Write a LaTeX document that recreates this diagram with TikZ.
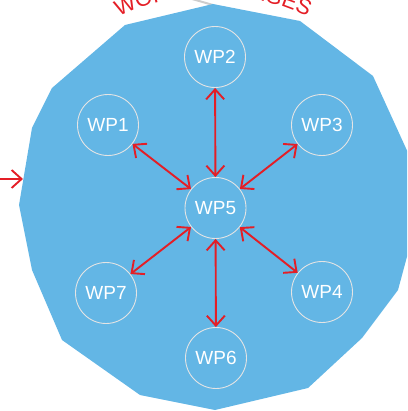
\documentclass[tikz,border=0pt]{standalone}
\usepackage{fontspec}
\setsansfont{Liberation Sans}
\usetikzlibrary{arrows.meta,decorations.text}
\definecolor{blobblue}{RGB}{99,182,229}
\definecolor{wpred}{RGB}{228,30,38}
\definecolor{ringgrey}{RGB}{228,228,228}
\definecolor{lineGrey}{RGB}{205,205,205}
\begin{document}
\begin{tikzpicture}[x=1pt,y=-1pt,
  wp/.style={circle,draw=ringgrey,line width=0.9pt,minimum size=61pt,inner sep=0pt,
    text=white,font=\sffamily\fontsize{19}{19}\selectfont},
  link/.style={draw=wpred,line width=1.9pt,>={Straight Barb[length=10pt,width=18pt]}}
]
\useasboundingbox (0,0) rectangle (407,411);
\clip (0,0) rectangle (407,411);

% title along arc (partly off the page)
\path[decorate,decoration={text along path,text align=center,
    text={|\sffamily\fontsize{22}{22}\selectfont\color{wpred}|WORK PACKAGES}}]
  (213,207) ++(-120:212) arc[start angle=-120,end angle=-60,radius=212];

% grey line behind the blob
\draw[lineGrey,line width=2pt] (192,-1) -- (213,5);

% blob
\fill[blobblue] (213,4) -- (300,21) -- (373,76) -- (425,190) -- (398,290) -- (362,338)
  -- (308,388) -- (215,410) -- (140,395) -- (62,340) -- (32,270) -- (19,205)
  -- (32,128) -- (52,88) -- (125,25) -- cycle;

% nodes
\node[wp] (wp5) at (215.5,208) {WP5};
\node[wp] (wp2) at (215,57) {WP2};
\node[wp] (wp1) at (108,125) {WP1};
\node[wp] (wp3) at (322,125) {WP3};
\node[wp] (wp7) at (106,293) {WP7};
\node[wp] (wp4) at (322,292) {WP4};
\node[wp] (wp6) at (216,358) {WP6};

% connectors
\draw[link,<->] (wp2) -- (wp5);
\draw[link,<->] (wp5) -- (wp6);
\draw[link,<->] (wp1) -- (wp5);
\draw[link,<->] (wp3) -- (wp5);
\draw[link,<->] (wp7) -- (wp5);
\draw[link,<->] (wp4) -- (wp5);

% incoming arrow at the left edge
\coordinate (lin) at (-5,179);
\coordinate (lend) at (23,179);
\draw[link,->] (lin) -- (lend);
\end{tikzpicture}
\end{document}
